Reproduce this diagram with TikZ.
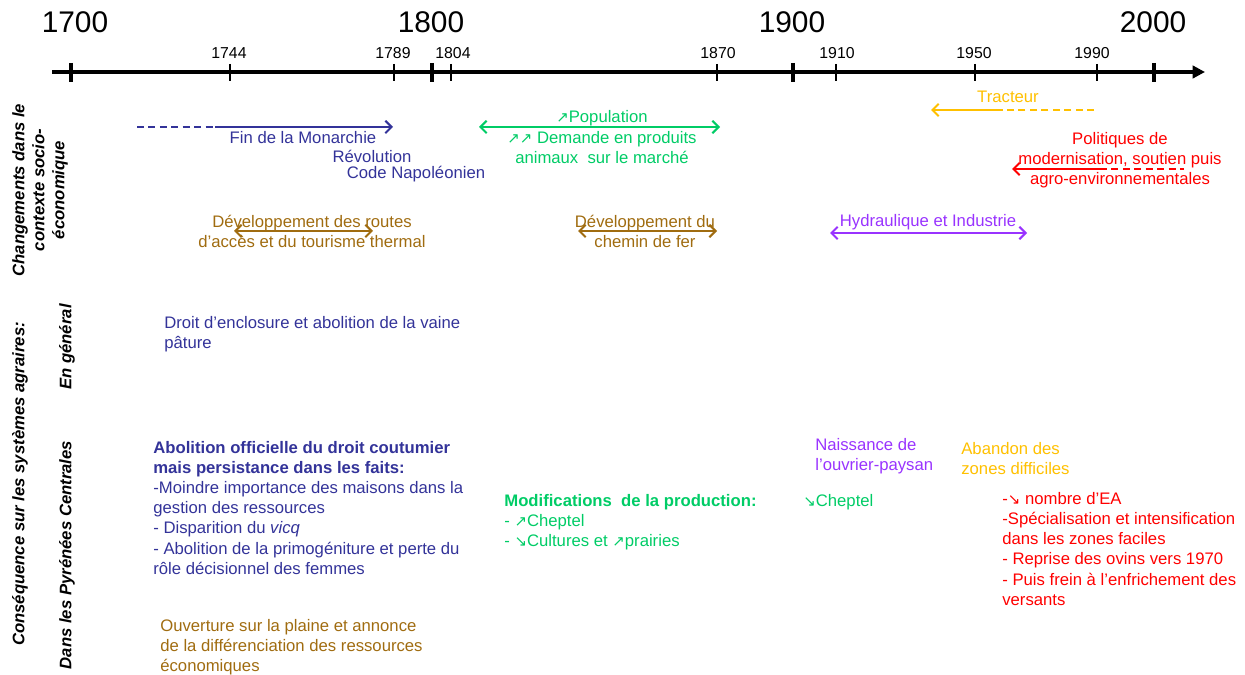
\documentclass[tikz,border=0pt]{standalone}
\usepackage{fontspec}
\setmainfont{Liberation Sans}
\newfontfamily\flechefont{DejaVu Sans}
\usetikzlibrary{arrows.meta}

\definecolor{bleu}{RGB}{51,51,153}
\definecolor{vert}{RGB}{0,204,102}
\definecolor{brun}{RGB}{160,108,16}
\definecolor{mauve}{RGB}{153,51,255}
\definecolor{jaune}{RGB}{255,192,0}
\definecolor{rouge}{RGB}{255,0,0}

\newcommand{\hausse}{{\flechefont\fontsize{8.5}{11}\selectfont ↗}}
\newcommand{\baisse}{{\flechefont\fontsize{8.5}{11}\selectfont ↘}}

\begin{document}
\begin{tikzpicture}[x=0.02cm, y=-0.02cm,
    txt/.style={font=\fontsize{9.5}{11.4}\selectfont, inner sep=0pt, align=left, anchor=west},
    ctr/.style={font=\fontsize{9.5}{11.4}\selectfont, inner sep=0pt, align=center},
    annee/.style={font=\fontsize{17}{20}\selectfont, inner sep=0pt},
    sousannee/.style={font=\fontsize{9}{11}\selectfont, inner sep=0pt},
    side/.style={font=\fontsize{9.5}{11.4}\selectfont\bfseries\itshape, rotate=90, align=center, inner sep=0pt},
    fl/.style={line width=1.2pt, -{Straight Barb[length=3.5pt, width=7pt]}},
    dfl/.style={line width=1.2pt, {Straight Barb[length=3.5pt, width=7pt]}-{Straight Barb[length=3.5pt, width=7pt]}},
    pointille/.style={line width=1.2pt, dash pattern=on 4pt off 2.5pt}
    ]
    \useasboundingbox (0, 0) rectangle (1245, 675);

    %Axis
    \coordinate (ax0) at (52, 72);
    \coordinate (ax1) at (1205, 72);
    \draw[line width=2.3pt, -{Triangle[length=7pt, width=7pt]}] (ax0) -- (ax1);
    \foreach \x in {71, 432, 793, 1154}
        \draw[line width=2.3pt] (\x, 63) -- (\x, 82);
    \foreach \x in {230, 394, 451, 717, 836, 975, 1097}
        \draw[line width=0.8pt] (\x, 64) -- (\x, 81);

    %Years
    \node[annee] at (75, 22) (y1700) {1700};
    \node[annee] at (431, 22) (y1800) {1800};
    \node[annee] at (792, 22) (y1900) {1900};
    \node[annee] at (1153, 22) (y2000) {2000};
    \node[sousannee] at (229, 53) (y1744) {1744};
    \node[sousannee] at (393, 53) (y1789) {1789};
    \node[sousannee] at (453, 53) (y1804) {1804};
    \node[sousannee] at (718, 53) (y1870) {1870};
    \node[sousannee] at (837, 53) (y1910) {1910};
    \node[sousannee] at (974, 53) (y1950) {1950};
    \node[sousannee] at (1092, 53) (y1990) {1990};

    %Side titles
    \node[side] at (40, 190) (ctx) {Changements dans le\\contexte socio-\\économique};
    \node[side] at (20, 484) (csq) {Conséquence sur les systèmes agraires:};
    \node[side] at (67, 347) (gen) {En général};
    \node[side] at (67, 555) (pyr) {Dans les Pyrénées Centrales};

    %Context
    \node[ctr, bleu] at (303, 138) (mon) {Fin de la Monarchie};
    \node[ctr, bleu] at (372, 156) (rev) {Révolution};
    \node[ctr, bleu] at (416, 174) (nap) {Code Napoléonien};
    \node[ctr, vert] at (602, 118) (pop) {\hausse Population};
    \node[ctr, vert] at (602, 148) (dem) {\hausse\hausse{} Demande en produits\\animaux~ sur le marché};
    \node[ctr, brun] at (312, 231) (rte) {Développement des routes\\d’accès et du tourisme thermal};
    \node[ctr, brun] at (645, 231) (fer) {Développement du\\chemin de fer};
    \node[ctr, mauve] at (928, 222) (hyd) {Hydraulique et Industrie};
    \node[ctr, jaune] at (1008, 97) (trac) {Tracteur};
    \node[ctr, rouge] at (1120, 160) (pol) {Politiques de\\modernisation, soutien puis\\agro-environnementales};

    %Consequences
    \node[txt, bleu] at (164, 334) (encl) {Droit d’enclosure et abolition de la vaine\\pâture};
    \node[txt, bleu] at (153, 508) (abol) {\textbf{Abolition officielle du droit coutumier}\\\textbf{mais persistance dans les faits:}\\-Moindre importance des maisons dans la\\gestion des ressources\\- Disparition du \textit{vicq}\\- Abolition de la primogéniture et perte du\\rôle décisionnel des femmes};
    \node[txt, brun] at (160, 647) (ouv) {Ouverture sur la plaine et annonce\\de la différenciation des ressources\\économiques};
    \node[txt, vert] at (504, 522) (modif) {\textbf{Modifications~ de la production:}\\- \hausse Cheptel\\- \baisse Cultures et \hausse prairies};
    \node[txt, mauve] at (815, 456) (ouvr) {Naissance de\\l’ouvrier-paysan};
    \node[txt, vert] at (803, 502) (chep) {\baisse Cheptel};
    \node[txt, jaune] at (961, 459) (aband) {Abandon des\\zones difficiles};
    \node[txt, rouge] at (1002, 549) (ea) {-\baisse{} nombre d’EA\\-Spécialisation et intensification\\dans les zones faciles\\- Reprise des ovins vers 1970\\- Puis frein à l’enfrichement des\\versants};

    %Lines
    \coordinate (mon0) at (137, 127);
    \coordinate (mon1) at (215, 127);
    \coordinate (mon2) at (393, 127);
    \draw[pointille, bleu] (mon0) -- (mon1);
    \draw[fl, bleu] (mon1) -- (mon2);

    \coordinate (pop0) at (479, 127);
    \coordinate (pop1) at (720, 127);
    \draw[dfl, vert] (pop0) -- (pop1);

    \coordinate (rte0) at (234, 231);
    \coordinate (rte1) at (373, 231);
    \draw[dfl, brun] (rte0) -- (rte1);

    \coordinate (fer0) at (578, 231);
    \coordinate (fer1) at (717, 231);
    \draw[dfl, brun] (fer0) -- (fer1);

    \coordinate (hyd0) at (830, 233);
    \coordinate (hyd1) at (1027, 233);
    \draw[dfl, mauve] (hyd0) -- (hyd1);

    \coordinate (trac0) at (931, 110);
    \coordinate (trac1) at (998, 110);
    \coordinate (trac2) at (1094, 110);
    \draw[pointille, jaune] (trac2) -- (trac1);
    \draw[fl, jaune] (trac1) -- (trac0);

    \coordinate (pol0) at (1012, 169);
    \coordinate (pol1) at (1100, 169);
    \coordinate (pol2) at (1184, 169);
    \draw[fl, rouge] (pol1) -- (pol0);
    \draw[pointille, rouge] (pol1) -- (pol2);
\end{tikzpicture}
\end{document}
